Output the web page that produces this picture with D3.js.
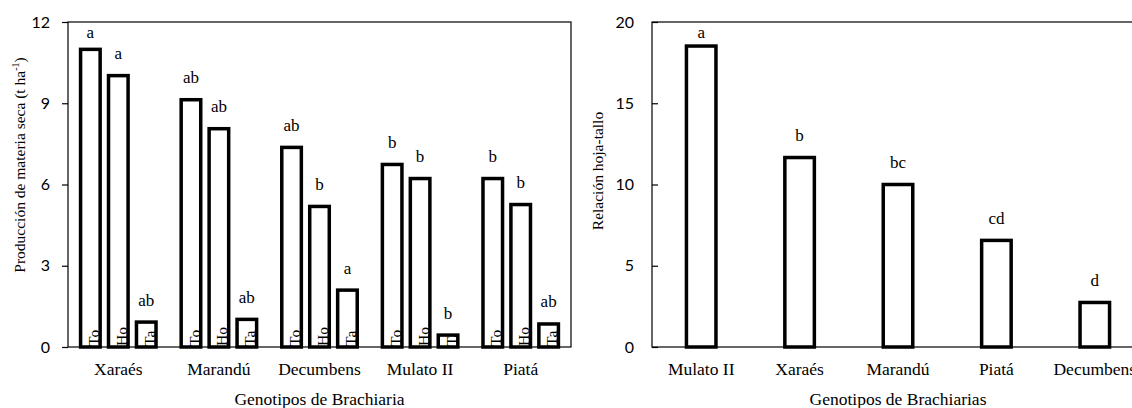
<!DOCTYPE html>
<html>
<head>
<meta charset="utf-8">
<script src="https://cdn.jsdelivr.net/npm/d3@7"></script>
<style>
  html, body { margin: 0; padding: 0; background: #fff; overflow: hidden; }
  svg { display: block; }
  .serif { font-family: "Liberation Serif", "Times New Roman", serif; }
  .tick text { font-family: Lato, "Open Sans", sans-serif; font-size: 16px; fill: #000; }
</style>
</head>
<body>
<svg id="chart" width="1132" height="408"></svg>
<script>
// ---- Data: left panel (dry matter production, t ha-1) ----
const groups = ["Xaraés", "Marandú", "Decumbens", "Mulato II", "Piatá"];
const series = ["To", "Ho", "Ta"];
const toValues = [10.99, 9.13, 7.37, 6.74, 6.22];
const hoValues = [10.02, 8.06, 5.19, 6.22, 5.26];
const taValues = [0.92, 1.02, 2.10, 0.44, 0.85];
const toLetters = ["a", "ab", "ab", "b", "b"];
const hoLetters = ["a", "ab", "b", "b", "b"];
const taLetters = ["ab", "ab", "a", "b", "ab"];
const leftTicks = [0, 3, 6, 9, 12];

// ---- Data: right panel (leaf-stem ratio) ----
const ratioGenotypes = ["Mulato II", "Xaraés", "Marandú", "Piatá", "Decumbens"];
const ratioValues = [18.52, 11.66, 10.0, 6.56, 2.74];
const ratioLetters = ["a", "b", "bc", "cd", "d"];
const rightTicks = [0, 5, 10, 15, 20];

const svg = d3.select("#chart");
const barStroke = 3.5;

// ================= LEFT PANEL =================
const L = { left: 68, right: 571, top: 22, bottom: 347 };
const x0 = d3.scaleBand().domain(groups).range([L.left, L.right]).padding(0);
const x1 = d3.scaleBand().domain(series).range([0, x0.bandwidth()])
  .paddingInner(0.3).paddingOuter(0.45);
const yL = d3.scaleLinear().domain([0, 12]).range([L.bottom, L.top]);

const valuesBySeries = { To: toValues, Ho: hoValues, Ta: taValues };
const lettersBySeries = { To: toLetters, Ho: hoLetters, Ta: taLetters };
const leftBars = [];
groups.forEach((g, gi) => {
  series.forEach(s => {
    leftBars.push({ g, s, v: valuesBySeries[s][gi], letter: lettersBySeries[s][gi] });
  });
});

const defs = svg.append("defs");

// frame
svg.append("rect")
  .attr("x", L.left).attr("y", L.top)
  .attr("width", L.right - L.left).attr("height", L.bottom - L.top)
  .attr("fill", "none").attr("stroke", "#000").attr("stroke-width", 1.2);

const gLeftBars = svg.append("g");
leftBars.forEach((d, i) => {
  const bx = x0(d.g) + x1(d.s);
  const bw = x1.bandwidth();
  const by = yL(d.v);
  const bh = yL(0) - by;
  const gBar = gLeftBars.append("g");
  defs.append("clipPath").attr("id", "clipL" + i)
    .append("rect").attr("x", bx).attr("y", by).attr("width", bw).attr("height", bh);
  gBar.append("rect")
    .attr("x", bx).attr("y", by).attr("width", bw).attr("height", bh)
    .attr("fill", "#fff");
  // rotated series label inside the bar, clipped to the bar
  gBar.append("g").attr("clip-path", "url(#clipL" + i + ")")
    .append("text")
    .attr("class", "serif")
    .attr("transform", `translate(${bx + bw - 1.2},${yL(0) - 1}) rotate(-90)`)
    .attr("font-size", 15.5)
    .attr("fill", "#000")
    .text(d.s);
  gBar.append("rect")
    .attr("x", bx).attr("y", by).attr("width", bw).attr("height", bh)
    .attr("fill", "none").attr("stroke", "#000").attr("stroke-width", barStroke);
  gBar.append("text")
    .attr("class", "serif")
    .attr("x", bx + bw / 2)
    .attr("y", Math.max(by - 16.5, 37.5))
    .attr("text-anchor", "middle")
    .attr("font-size", 17)
    .text(d.letter);
});

// y axis (outward ticks)
const axL = svg.append("g").attr("transform", `translate(${L.left},0)`)
  .call(d3.axisLeft(yL).tickValues(leftTicks).tickSizeInner(6).tickSizeOuter(0).tickPadding(12));
axL.select(".domain").remove();
axL.selectAll(".tick line").attr("stroke", "#000").attr("stroke-width", 1.2);

// x category labels
svg.append("g").selectAll("text").data(groups).join("text")
  .attr("class", "serif")
  .attr("x", d => x0(d) + x0.bandwidth() / 2)
  .attr("y", 375)
  .attr("text-anchor", "middle")
  .attr("font-size", 17.5)
  .text(d => d);

svg.append("text").attr("class", "serif")
  .attr("x", (L.left + L.right) / 2).attr("y", 405)
  .attr("text-anchor", "middle").attr("font-size", 17.5)
  .text("Genotipos de Brachiaria");

const yTitleL = svg.append("text").attr("class", "serif")
  .attr("transform", `translate(25,165) rotate(-90)`)
  .attr("text-anchor", "middle").attr("font-size", 15.5);
yTitleL.append("tspan").text("Producción de materia seca (t ha");
yTitleL.append("tspan").attr("font-size", 10).attr("dy", -6).text("-1");
yTitleL.append("tspan").attr("dy", 6).text(")");

// ================= RIGHT PANEL =================
const R = { left: 652, right: 1144, top: 22, bottom: 347 };
const xR = d3.scaleBand().domain(ratioGenotypes).range([R.left, R.right])
  .paddingInner(0.7).paddingOuter(0.35);
const yR = d3.scaleLinear().domain([0, 20]).range([R.bottom, R.top]);

svg.append("rect")
  .attr("x", R.left).attr("y", R.top)
  .attr("width", R.right - R.left).attr("height", R.bottom - R.top)
  .attr("fill", "none").attr("stroke", "#000").attr("stroke-width", 1.2);

const ratioData = ratioGenotypes.map((g, i) => ({ g, v: ratioValues[i], letter: ratioLetters[i] }));
const gR = svg.append("g");
gR.selectAll("rect").data(ratioData).join("rect")
  .attr("x", d => xR(d.g)).attr("y", d => yR(d.v))
  .attr("width", xR.bandwidth()).attr("height", d => yR(0) - yR(d.v))
  .attr("fill", "#fff").attr("stroke", "#000").attr("stroke-width", barStroke);
gR.selectAll("text").data(ratioData).join("text")
  .attr("class", "serif")
  .attr("x", d => xR(d.g) + xR.bandwidth() / 2)
  .attr("y", d => Math.max(yR(d.v) - 16.5, 37.5))
  .attr("text-anchor", "middle").attr("font-size", 17)
  .text(d => d.letter);

const axR = svg.append("g").attr("transform", `translate(${R.left},0)`)
  .call(d3.axisLeft(yR).tickValues(rightTicks).tickSizeInner(-6).tickSizeOuter(0).tickPadding(18));
axR.select(".domain").remove();
axR.selectAll(".tick line").attr("stroke", "#000").attr("stroke-width", 1.2);

svg.append("g").selectAll("text").data(ratioGenotypes).join("text")
  .attr("class", "serif")
  .attr("x", d => xR(d) + xR.bandwidth() / 2)
  .attr("y", 375)
  .attr("text-anchor", "middle").attr("font-size", 17.5)
  .text(d => d);

svg.append("text").attr("class", "serif")
  .attr("x", (R.left + R.right) / 2).attr("y", 405)
  .attr("text-anchor", "middle").attr("font-size", 17.5)
  .text("Genotipos de Brachiarias");

svg.append("text").attr("class", "serif")
  .attr("transform", `translate(603,171) rotate(-90)`)
  .attr("text-anchor", "middle").attr("font-size", 15.5)
  .text("Relación hoja-tallo");
</script>
</body>
</html>
